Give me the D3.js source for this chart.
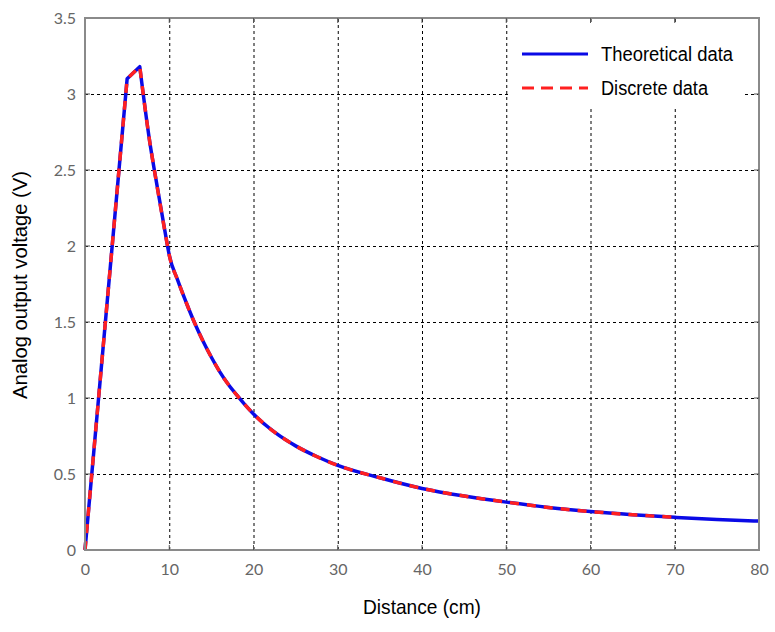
<!DOCTYPE html>
<html>
<head>
<meta charset="utf-8">
<script src="https://cdn.jsdelivr.net/npm/d3@7"></script>
<style>
  body { margin: 0; background: #fff; }
</style>
</head>
<body>
<svg id="chart" width="775" height="632"></svg>
<script>
// values
let distance = [0, 5, 6.5, 7.7, 8.2, 9.7, 10, 11, 12, 13, 14, 15, 16, 17, 18, 19, 20, 22.5, 25, 27.5, 30, 35, 40, 45, 50, 55, 60, 65, 70, 75, 80];
let theoretical = [0, 3.10, 3.18, 2.68, 2.51, 2.03, 1.94, 1.775, 1.63, 1.495, 1.375, 1.268, 1.172, 1.09, 1.02, 0.955, 0.895, 0.775, 0.685, 0.615, 0.557, 0.475, 0.405, 0.355, 0.315, 0.28, 0.253, 0.232, 0.215, 0.20, 0.19];
// discrete samples stop at 70 cm
let discrete = theoretical.slice(0, distance.indexOf(70) + 1);

let xTicks = [0, 10, 20, 30, 40, 50, 60, 70, 80];
let yTicks = [0, 0.5, 1, 1.5, 2, 2.5, 3, 3.5];
let seriesNames = ['Theoretical data', 'Discrete data'];

let svg = d3.select('#chart');
let plotLeft = 85, plotRight = 759, plotTop = 18, plotBottom = 550;

let x = d3.scaleLinear().domain([0, 80]).range([plotLeft, plotRight]);
let y = d3.scaleLinear().domain([0, 3.5]).range([plotBottom, plotTop]);

// dashed grid
let grid = svg.append('g');
grid.append('g')
    .attr('transform', `translate(0,${plotBottom})`)
    .call(d3.axisBottom(x).tickValues(xTicks.slice(1, -1)).tickSize(-(plotBottom - plotTop)).tickFormat(''))
    .call(g => g.select('.domain').remove())
    .selectAll('line')
    .attr('stroke', '#000')
    .attr('stroke-dasharray', '3,3');
grid.append('g')
    .attr('transform', `translate(${plotLeft},0)`)
    .call(d3.axisLeft(y).tickValues(yTicks.slice(1, -1)).tickSize(-(plotRight - plotLeft)).tickFormat(''))
    .call(g => g.select('.domain').remove())
    .selectAll('line')
    .attr('stroke', '#000')
    .attr('stroke-dasharray', '3,3');

// curves: straight rise up to the peak, smooth decay after it
let rise = d3.line().x(d => x(d[0])).y(d => y(d[1]));
let decay = d3.line().x(d => x(d[0])).y(d => y(d[1])).curve(d3.curveMonotoneX);

function curvePath(values) {
    let pts = values.map((v, i) => [distance[i], v]);
    let peak = d3.maxIndex(values);
    return rise(pts.slice(0, peak + 1)) + decay(pts.slice(peak)).replace(/^M/, 'L');
}

svg.append('path')
    .attr('d', curvePath(theoretical))
    .attr('fill', 'none')
    .attr('stroke', '#0a0ae6')
    .attr('stroke-width', 3.5)
    .attr('stroke-linejoin', 'round');

svg.append('path')
    .attr('d', curvePath(discrete))
    .attr('fill', 'none')
    .attr('stroke', '#ff2020')
    .attr('stroke-width', 3.5)
    .attr('stroke-dasharray', '9,8');

// legend
let legend = svg.append('g');
legend.append('rect')
    .attr('x', 510).attr('y', 24)
    .attr('width', 232).attr('height', 83)
    .attr('fill', '#fff');
legend.append('line')
    .attr('x1', 522).attr('x2', 588).attr('y1', 54).attr('y2', 54)
    .attr('stroke', '#0a0ae6').attr('stroke-width', 3);
legend.append('line')
    .attr('x1', 522).attr('x2', 588).attr('y1', 88).attr('y2', 88)
    .attr('stroke', '#ff2020').attr('stroke-width', 3)
    .attr('stroke-dasharray', '12,7');
legend.selectAll('text.leg')
    .data(seriesNames)
    .join('text')
    .attr('class', 'leg')
    .attr('x', 601)
    .attr('y', (d, i) => i == 0 ? 61 : 95)
    .attr('font-family', 'Liberation Sans Narrow, Liberation Sans, Arial')
    .attr('font-size', 20)
    .attr('textLength', (d, i) => i == 0 ? 132 : 107)
    .attr('lengthAdjust', 'spacingAndGlyphs')
    .attr('fill', '#000')
    .text(d => d);

// frame with inward ticks
svg.append('rect')
    .attr('x', plotLeft).attr('y', plotTop)
    .attr('width', plotRight - plotLeft).attr('height', plotBottom - plotTop)
    .attr('fill', 'none')
    .attr('stroke', '#8a8a8a')
    .attr('stroke-width', 2);

let tickLen = 5;
let frameTicks = svg.append('g').attr('stroke', '#555').attr('stroke-width', 1);
xTicks.slice(1, -1).forEach(t => {
    frameTicks.append('line').attr('x1', x(t)).attr('x2', x(t)).attr('y1', plotBottom).attr('y2', plotBottom - tickLen);
    frameTicks.append('line').attr('x1', x(t)).attr('x2', x(t)).attr('y1', plotTop).attr('y2', plotTop + tickLen);
});
yTicks.slice(1, -1).forEach(t => {
    frameTicks.append('line').attr('x1', plotLeft).attr('x2', plotLeft + tickLen).attr('y1', y(t)).attr('y2', y(t));
    frameTicks.append('line').attr('x1', plotRight).attr('x2', plotRight - tickLen).attr('y1', y(t)).attr('y2', y(t));
});

// tick labels
let xAxis = svg.append('g')
    .attr('transform', `translate(0,${plotBottom})`)
    .call(d3.axisBottom(x).tickValues(xTicks).tickSize(0).tickPadding(14).tickFormat(d3.format('d')));
let yAxis = svg.append('g')
    .attr('transform', `translate(${plotLeft},0)`)
    .call(d3.axisLeft(y).tickValues(yTicks).tickSize(0).tickPadding(9).tickFormat(d => d));
[xAxis, yAxis].forEach(a => {
    a.select('.domain').remove();
    a.selectAll('text')
        .attr('font-family', 'Lato, Open Sans, sans-serif')
        .attr('font-size', 16)
        .attr('fill', '#666');
});

// axis titles
svg.append('text')
    .attr('x', 422).attr('y', 614)
    .attr('text-anchor', 'middle')
    .attr('font-family', 'Liberation Sans Narrow, Liberation Sans, Arial')
    .attr('font-size', 21)
    .attr('textLength', 118)
    .attr('lengthAdjust', 'spacingAndGlyphs')
    .text('Distance (cm)');

svg.append('text')
    .attr('transform', 'translate(27,285) rotate(-90)')
    .attr('text-anchor', 'middle')
    .attr('font-family', 'Liberation Sans Narrow, Liberation Sans, Arial')
    .attr('font-size', 21)
    .attr('textLength', 228)
    .attr('lengthAdjust', 'spacingAndGlyphs')
    .text('Analog output voltage (V)');
</script>
</body>
</html>
